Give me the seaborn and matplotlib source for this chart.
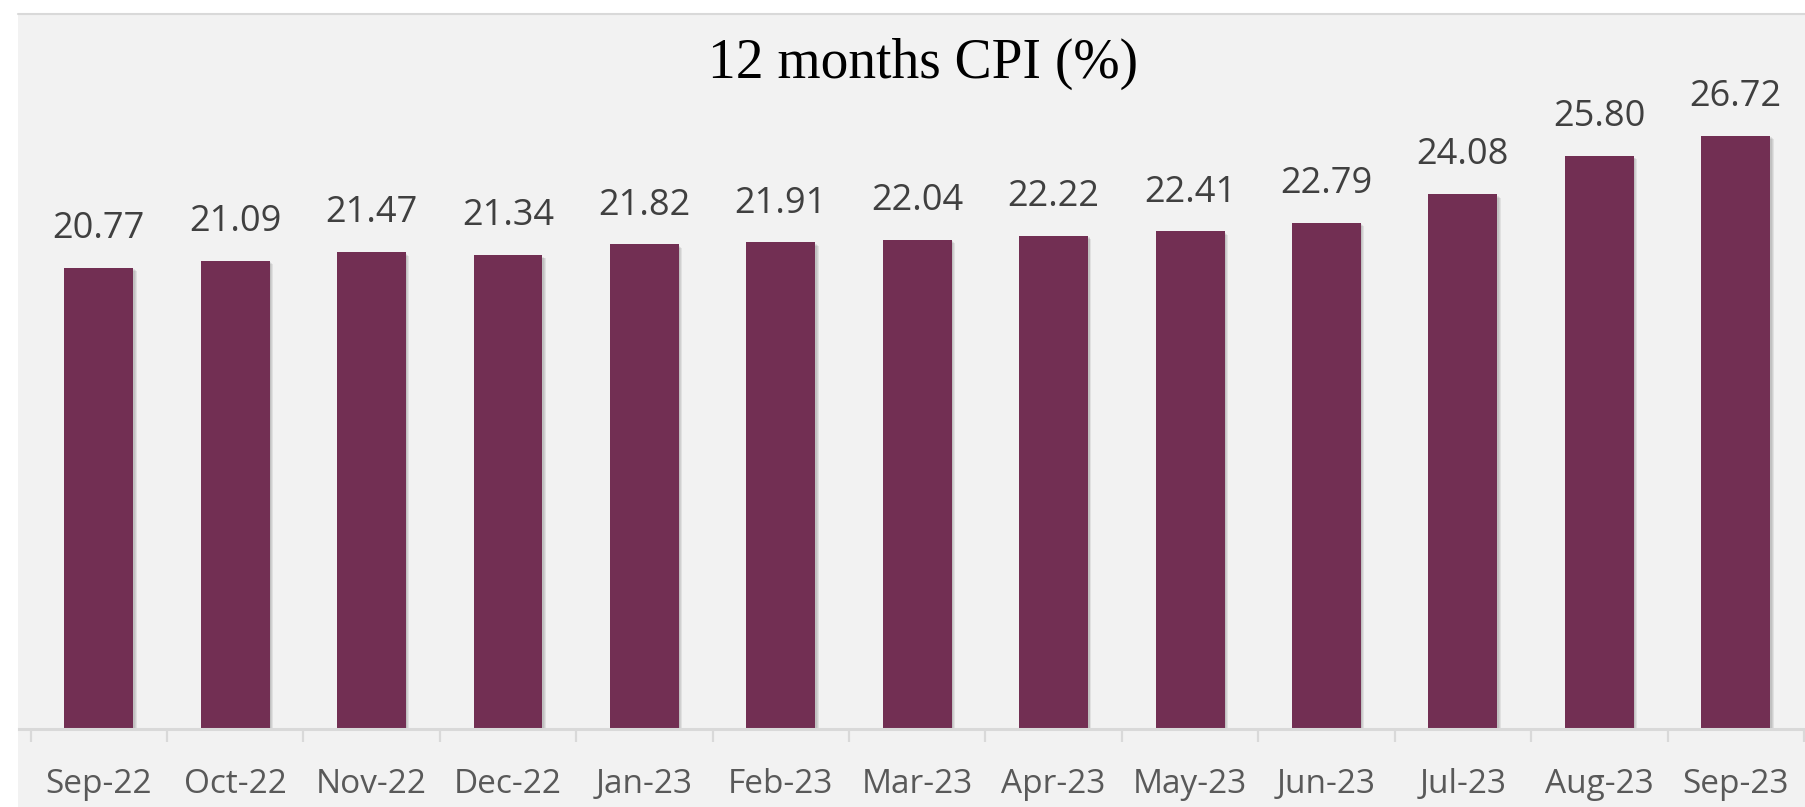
import numpy as np
import pandas as pd
import matplotlib
matplotlib.use("Agg")
import matplotlib.pyplot as plt
import matplotlib.patheffects as pe
from matplotlib.patches import Rectangle
import seaborn as sns

# data
months = ["Sep-22", "Oct-22", "Nov-22", "Dec-22", "Jan-23", "Feb-23", "Mar-23",
          "Apr-23", "May-23", "Jun-23", "Jul-23", "Aug-23", "Sep-23"]
cpi = [20.77, 21.09, 21.47, 21.34, 21.82, 21.91, 22.04,
       22.22, 22.41, 22.79, 24.08, 25.80, 26.72]
title = "12 months CPI (%)"

bar_color = "#722F53"
bg = "#F2F2F2"

sns.set_theme(style="white")
plt.rcParams["font.family"] = ["Open Sans", "DejaVu Sans"]

W, H = 1806, 807
fig = plt.figure(figsize=(W / 100, H / 100), dpi=100, facecolor="white")

# gray chart area with a white margin on top and left
fig.patches.append(Rectangle((18 / W, 0), 1 - 18 / W, 793 / H, transform=fig.transFigure,
                             facecolor=bg, edgecolor="none", zorder=-2))
fig.lines.append(plt.Line2D([18 / W, 1], [793 / H, 793 / H], transform=fig.transFigure,
                            color="#D9D9D9", lw=1.5))

ax = fig.add_axes([19 / W, 78 / H, 1 - 19 / W, (729 - 14) / H])
ax.set_facecolor("none")

df = pd.DataFrame({"month": months, "cpi": cpi})
sns.barplot(data=df, x="month", y="cpi", color=bar_color, saturation=1, width=0.505,
            linewidth=0, ax=ax)

# soft drop shadow, a few stacked offsets
shadow = [pe.SimplePatchShadow(offset=(o, -o), shadow_rgbFace="black", alpha=0.07)
          for o in (2.4, 1.7, 1.0)]
for p in ax.patches:
    p.set_path_effects(shadow + [pe.Normal()])

ax.bar_label(ax.containers[0], labels=[f"{v:.2f}" for v in cpi], padding=15,
             fontsize=26, color="#404040")

ax.set_xlim(-0.585, 12.515)
ax.set_ylim(0, 32.2)
ax.set_xlabel("")
ax.set_ylabel("")
ax.set_yticks([])

for s in ["top", "right", "left"]:
    ax.spines[s].set_visible(False)
ax.spines["bottom"].set_color("#D9D9D9")
ax.spines["bottom"].set_linewidth(2.2)

ax.set_xticks(np.arange(-0.5, 13, 1), minor=True)
ax.tick_params(axis="x", which="minor", length=9, width=1.6, color="#D9D9D9", bottom=True)
ax.tick_params(axis="x", which="major", length=0, pad=28, labelsize=24, labelcolor="#595959")

fig.text(923 / W, 1 - 78 / H, title, ha="center", va="baseline", fontsize=40,
         family=["Liberation Serif", "DejaVu Serif"], color="black")

fig.savefig("out.png", dpi=100, facecolor=fig.get_facecolor())
